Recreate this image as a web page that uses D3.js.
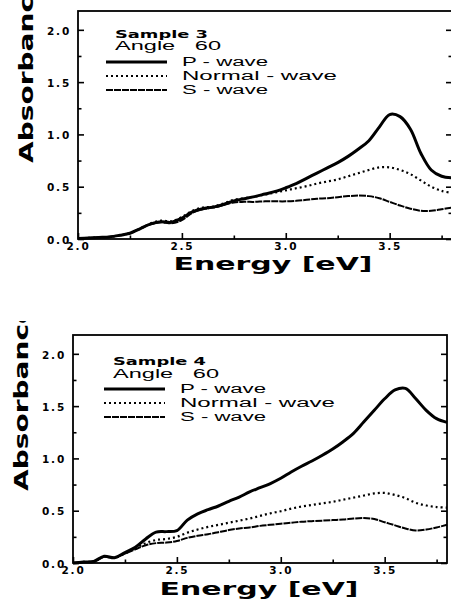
<!DOCTYPE html>
<html><head><meta charset="utf-8">
<script src="https://cdn.jsdelivr.net/npm/d3@7"></script>
<style>html,body{margin:0;padding:0;background:#fff;}svg{display:block;}</style>
</head><body>
<svg id="c" width="451" height="601"></svg>
<script>
// ---------- data ----------
const energy = [2.00,2.05,2.10,2.15,2.20,2.25,2.30,2.35,2.40,2.45,2.50,2.55,2.60,2.65,2.70,2.75,2.80,2.85,2.90,2.95,
  3.00,3.05,3.10,3.15,3.20,3.25,3.30,3.35,3.40,3.45,3.50,3.55,3.60,3.65,3.70,3.75,3.80];

const s3P      = [0.005,0.01,0.015,0.02,0.035,0.055,0.10,0.145,0.165,0.16,0.20,0.26,0.29,0.305,0.33,0.365,0.385,0.405,0.43,0.455,
  0.49,0.53,0.58,0.63,0.68,0.73,0.79,0.86,0.94,1.07,1.19,1.17,1.05,0.82,0.66,0.60,0.585];
const s3Normal = [0.005,0.01,0.015,0.02,0.035,0.055,0.10,0.15,0.175,0.17,0.21,0.27,0.30,0.31,0.34,0.375,0.39,0.405,0.425,0.445,
  0.465,0.485,0.505,0.53,0.55,0.57,0.60,0.63,0.66,0.685,0.685,0.66,0.62,0.56,0.50,0.46,0.44];
const s3S      = [0.005,0.01,0.015,0.02,0.035,0.055,0.10,0.14,0.16,0.15,0.18,0.25,0.285,0.30,0.325,0.35,0.355,0.355,0.36,0.36,
  0.36,0.365,0.375,0.385,0.39,0.40,0.41,0.415,0.41,0.39,0.355,0.32,0.29,0.27,0.27,0.285,0.30];

const s4P      = [0.0,0.01,0.015,0.065,0.05,0.10,0.15,0.23,0.295,0.30,0.31,0.41,0.47,0.51,0.545,0.59,0.63,0.68,0.72,0.76,
  0.81,0.87,0.925,0.975,1.03,1.09,1.16,1.24,1.35,1.46,1.57,1.655,1.67,1.57,1.46,1.38,1.345];
const s4Normal = [0.0,0.01,0.015,0.06,0.05,0.09,0.14,0.19,0.22,0.23,0.25,0.29,0.32,0.345,0.365,0.385,0.405,0.425,0.45,0.475,
  0.495,0.52,0.54,0.555,0.57,0.585,0.605,0.625,0.645,0.665,0.67,0.65,0.62,0.575,0.55,0.535,0.53];
const s4S      = [0.0,0.01,0.015,0.06,0.05,0.09,0.13,0.17,0.19,0.195,0.21,0.24,0.26,0.275,0.295,0.315,0.33,0.34,0.355,0.365,
  0.375,0.385,0.395,0.40,0.405,0.41,0.415,0.425,0.43,0.42,0.39,0.36,0.33,0.31,0.32,0.34,0.365];

const xTickValues = [2.0,2.5,3.0,3.5];
const xTickLabels = ["2.0","2.5","3.0","3.5"];
const xMinorValues = [2.25,2.75,3.25,3.75];
const yTickValues = [0.0,0.5,1.0,1.5,2.0];
const yTickLabels = ["0.0","0.5","1.0","1.5","2.0"];
const yMinorValues = [0.25,0.75,1.25,1.75];
const seriesNames = ["P - wave","Normal - wave","S - wave"];
const samples = ["Sample 3","Sample 4"];
const angleText = "Angle   60";
const xTitle = "Energy [eV]";
const yTitle = "Absorbance";

// ---------- layout ----------
const panels = [
  {name: samples[0], data:[s3P,s3Normal,s3S], left:78, right:452, top:11, bottom:239, clipTop:0, clipBottom:300,
   xTitleX:273, xTitleY:270, yTitleX:33, yTitleY:163, legX:106, legY:62, sampleY:37.5},
  {name: samples[1], data:[s4P,s4Normal,s4S], left:73, right:447, top:335, bottom:563, clipTop:321, clipBottom:601,
   xTitleX:259, xTitleY:595, yTitleX:28, yTitleY:491, legX:104, legY:389, sampleY:365}
];

const svg = d3.select("#c");
const styles = [
  {w:3, dash:null},
  {w:2.2, dash:"2,3"},
  {w:2, dash:"7,1"}
];

panels.forEach((p,i)=>{
  const clipId = "clip"+i;
  svg.append("clipPath").attr("id",clipId).append("rect")
    .attr("x",0).attr("y",p.clipTop).attr("width",451).attr("height",p.clipBottom-p.clipTop);
  const g = svg.append("g").attr("clip-path","url(#"+clipId+")");

  const x = d3.scaleLinear().domain([2.0,3.8]).range([p.left,p.right]);
  const y = d3.scaleLinear().domain([0,2.18]).range([p.bottom,p.top]);

  // frame
  g.append("rect").attr("x",p.left).attr("y",p.top).attr("width",p.right-p.left).attr("height",p.bottom-p.top)
    .attr("fill","none").attr("stroke","#000").attr("stroke-width",1.8);

  // ticks (inward)
  const mk = (axis, tr)=>{
    const a = g.append("g").attr("transform",tr).call(axis);
    a.select(".domain").remove();
    a.selectAll("line").attr("stroke","#000").attr("stroke-width",1.6);
    return a;
  };
  mk(d3.axisBottom(x).tickValues(xMinorValues).tickSize(-3.5).tickFormat(""), `translate(0,${p.bottom})`);
  const xa = mk(d3.axisBottom(x).tickValues(xTickValues).tickSize(-6).tickPadding(4)
      .tickFormat((d,k)=>xTickLabels[k]), `translate(0,${p.bottom})`);
  xa.selectAll("text").attr("font-family","DejaVu Sans").attr("font-weight","bold").attr("font-size",10.5)
    .attr("letter-spacing",1.8).attr("fill","#000");
  mk(d3.axisLeft(y).tickValues(yMinorValues).tickSize(-3.5).tickFormat(""), `translate(${p.left},0)`);
  const ya = mk(d3.axisLeft(y).tickValues(yTickValues).tickSize(-6).tickPadding(7)
      .tickFormat((d,k)=>yTickLabels[k]), `translate(${p.left},0)`);
  ya.selectAll("text").attr("font-family","DejaVu Sans").attr("font-weight","bold").attr("font-size",10.5)
    .attr("letter-spacing",1.8).attr("fill","#000").attr("dy","0.4em");
  // right axis ticks
  mk(d3.axisRight(y).tickValues(yTickValues).tickSize(-6).tickFormat(""), `translate(${p.right},0)`);
  mk(d3.axisRight(y).tickValues(yMinorValues).tickSize(-3.5).tickFormat(""), `translate(${p.right},0)`);

  // curves
  const line = d3.line().x((d,k)=>x(energy[k])).y(d=>y(d)).curve(d3.curveCatmullRom.alpha(0.5));
  p.data.forEach((arr,k)=>{
    g.append("path").datum(arr).attr("d",line).attr("fill","none").attr("stroke","#000")
      .attr("stroke-width",styles[k].w).attr("stroke-dasharray",styles[k].dash)
      .attr("stroke-linejoin","round");
  });

  // legend
  g.append("text").attr("x",p.legX+9).attr("y",p.sampleY).text(p.name)
    .attr("font-family","DejaVu Sans").attr("font-weight","bold").attr("font-size",11)
    .attr("textLength",93).attr("lengthAdjust","spacingAndGlyphs");
  g.append("text").attr("x",p.legX+9).attr("y",p.sampleY+12.5).text(angleText)
    .attr("font-family","Liberation Sans").attr("font-size",12.5)
    .attr("textLength",106).attr("lengthAdjust","spacingAndGlyphs").style("white-space","pre");
  const lens = [86,155,86];
  seriesNames.forEach((nm,k)=>{
    const yy = p.legY + k*14;
    g.append("line").attr("x1",p.legX).attr("x2",p.legX+61).attr("y1",yy).attr("y2",yy)
      .attr("stroke","#000").attr("stroke-width",styles[k].w).attr("stroke-dasharray",styles[k].dash);
    g.append("text").attr("x",p.legX+76).attr("y",yy+4.3).text(nm)
      .attr("font-family","Liberation Sans").attr("font-size",12)
      .attr("textLength",lens[k]).attr("lengthAdjust","spacingAndGlyphs");
  });

  // titles
  g.append("text").attr("x",p.xTitleX).attr("y",p.xTitleY).attr("text-anchor","middle")
    .text(xTitle).attr("font-family","DejaVu Sans").attr("font-weight","900").attr("font-size",18.5)
    .attr("textLength",199).attr("lengthAdjust","spacingAndGlyphs");
  g.append("text").attr("transform",`translate(${p.yTitleX},${p.yTitleY}) rotate(-90)`)
    .text(yTitle).attr("font-family","DejaVu Sans").attr("font-weight","900").attr("font-size",19)
    .attr("textLength",186).attr("lengthAdjust","spacingAndGlyphs");
});
</script>
</body></html>
